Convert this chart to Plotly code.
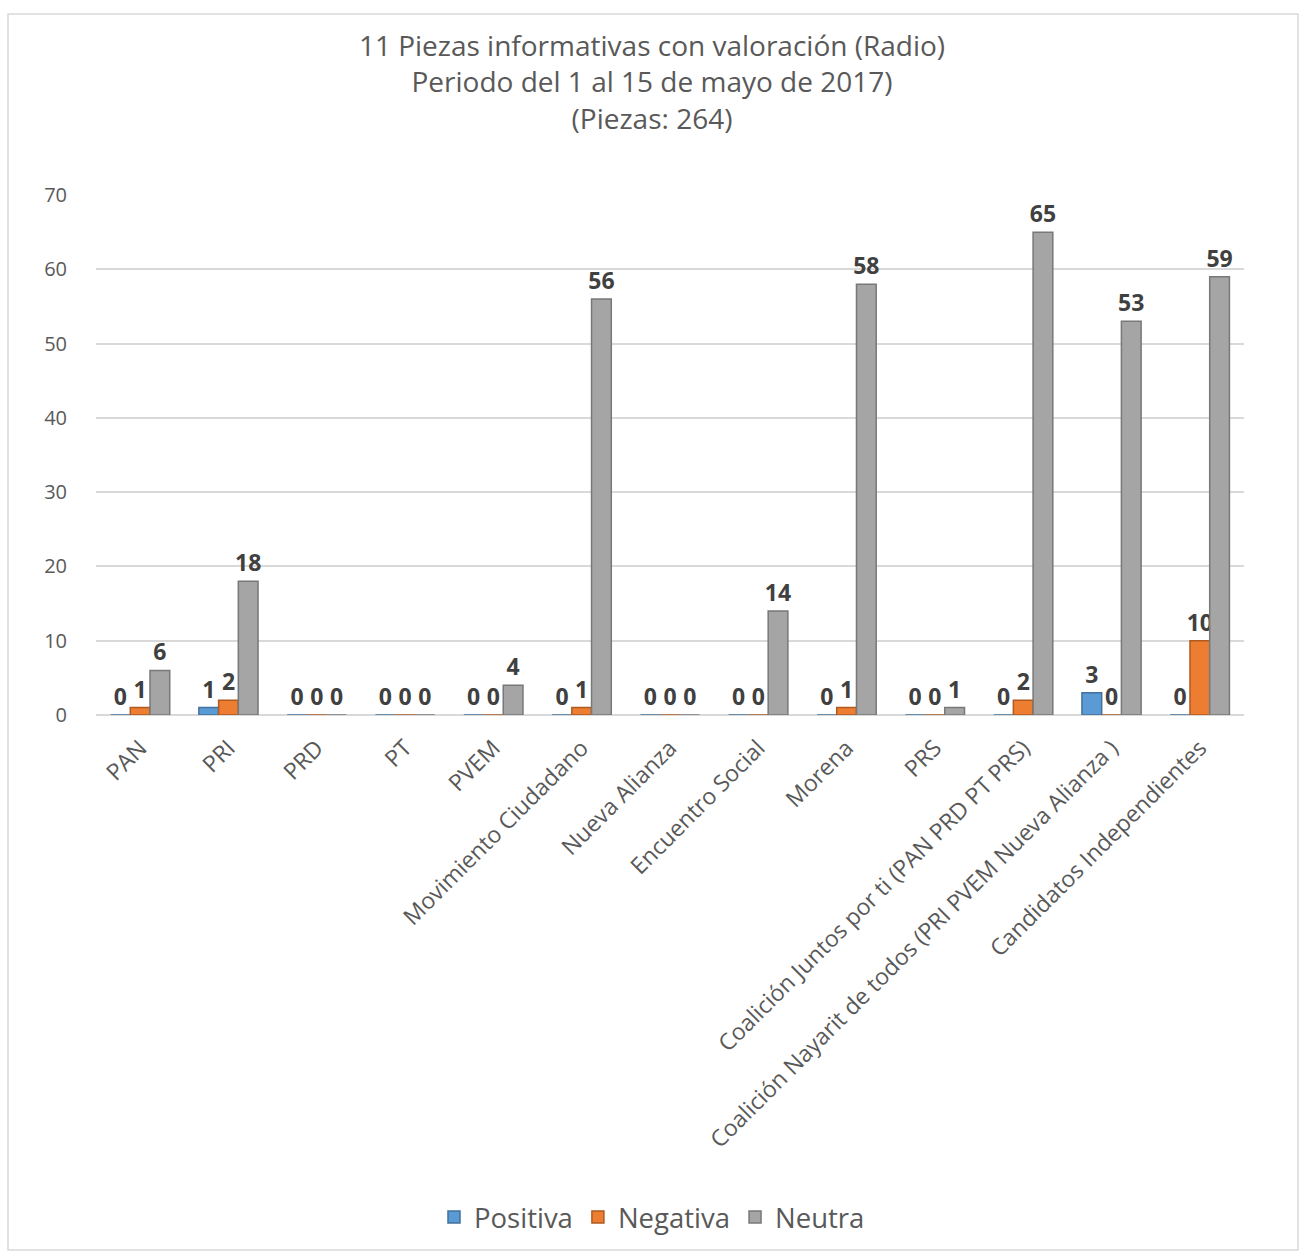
import plotly.graph_objects as go

categories = ["PAN", "PRI", "PRD", "PT", "PVEM", "Movimiento Ciudadano", "Nueva Alianza",
              "Encuentro Social", "Morena", "PRS", "Coalición Juntos por ti (PAN PRD PT PRS)",
              "Coalición Nayarit de todos (PRI PVEM Nueva Alianza )", "Candidatos Independientes"]
positiva = [0, 1, 0, 0, 0, 0, 0, 0, 0, 0, 0, 3, 0]
negativa = [1, 2, 0, 0, 0, 1, 0, 0, 1, 0, 2, 0, 10]
neutra = [6, 18, 0, 0, 4, 56, 0, 14, 58, 1, 65, 53, 59]
y_ticks = [0, 10, 20, 30, 40, 50, 60, 70]

series = [("Positiva", positiva, "#5b9bd5", "#41719c"),
          ("Negativa", negativa, "#ed7d31", "#ae5a21"),
          ("Neutra", neutra, "#a5a5a5", "#787878")]

fig = go.Figure()
for name, vals, col, edge in series:
    fig.add_trace(go.Bar(
        name=name, x=categories, y=vals, marker=dict(color=col, line=dict(color=edge, width=1.5)),
        text=[str(v) for v in vals], textposition="outside", cliponaxis=False, constraintext="none",
        textfont=dict(family="Open Sans", size=23, color="#404040", weight="bold"),
    ))

W, H = 1304, 1255
ml, mr, mt, mb = 96, 60, 195, 540
PW, PH = W - ml - mr, H - mt - mb
fig.update_layout(
    width=W, height=H,
    margin=dict(l=ml, r=mr, t=mt, b=mb, autoexpand=False),
    paper_bgcolor="white", plot_bgcolor="white",
    barmode="group", bargap=0.33, bargroupgap=0.0,
    title=dict(text="11 Piezas informativas con valoración (Radio)<br>Periodo del 1 al 15 de mayo de 2017)<br>(Piezas: 264)",
               x=0.5, xanchor="center", xref="container", y=1 - 56 / H, yref="container", yanchor="top",
               font=dict(family="Open Sans", size=28, color="#595959")),
    font=dict(family="Open Sans", color="#595959"),
    legend=dict(orientation="h", x=0.5, xanchor="center", xref="container", y=1 - 1217 / H, yref="container",
                yanchor="middle", font=dict(family="Open Sans", size=27.5, color="#595959"),
                traceorder="normal"),
    xaxis=dict(tickangle=-45, tickfont=dict(family="Open Sans", size=23, color="#595959"),
               showgrid=False, showline=False, ticks="", automargin=False, ticklabelstandoff=14),
    yaxis=dict(range=[0, 70], tickvals=y_ticks, tickfont=dict(family="Open Sans", size=20, color="#595959"),
               showgrid=True, gridcolor="#d9d9d9", gridwidth=2, zeroline=True, zerolinecolor="#d9d9d9",
               zerolinewidth=2, showline=False, ticklabelstandoff=28, automargin=False),
    shapes=[dict(type="rect", xref="paper", yref="paper",
                 x0=-(ml - 8) / PW, x1=1 + (mr - 6) / PW,
                 y0=-(mb - 5) / PH, y1=1 + (mt - 14) / PH,
                 line=dict(color="#d9d9d9", width=1.5), fillcolor="rgba(0,0,0,0)", layer="below")],
)
fig.write_html("out.html", post_script="document.body.style.margin='0';",
               config={"displayModeBar": False})
